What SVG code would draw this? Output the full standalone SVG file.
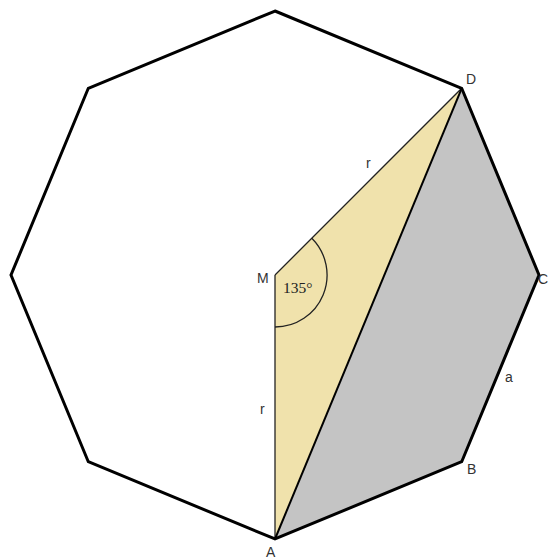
<svg xmlns="http://www.w3.org/2000/svg" width="548" height="559" viewBox="0 0 548 559">
<style>
.lbl{font-family:"Liberation Sans",Arial,sans-serif;font-size:14px;fill:#333}
.ang{font-family:"Liberation Serif","Times New Roman",serif;font-size:15.5px;fill:#222}
.thin{stroke:#222;stroke-width:1.3;fill:none}
</style>
<rect width="548" height="559" fill="#fff"/>
<g id="fills">
<polygon points="275,275 461.7,88.3 275,539" fill="#F0E2AC"/>
<polygon points="275,539 461.7,461.7 539,275 461.7,88.3" fill="#C4C4C4"/>
</g>
<g id="connectors">
<line class="thin" x1="275" y1="275" x2="461.7" y2="88.3"/>
<line class="thin" x1="275" y1="275" x2="275" y2="539"/>
<line x1="275" y1="539" x2="461.7" y2="88.3" stroke="#000" stroke-width="2"/>
<path class="thin" d="M275,327 A52,52 0 0 0 311.8,238.2"/>
</g>
<g id="octagon">
<polygon points="275,11 461.7,88.3 539,275 461.7,461.7 275,539 88.3,461.7 11,275 88.3,88.3" fill="none" stroke="#000" stroke-width="3" stroke-linejoin="miter"/>
</g>
<g id="node-M"><text class="lbl" x="257" y="283">M</text></g>
<g id="node-D"><text class="lbl" x="466" y="84">D</text></g>
<g id="node-C"><text class="lbl" x="538" y="284" font-size="13">C</text></g>
<g id="node-B"><text class="lbl" x="467" y="474">B</text></g>
<g id="node-A"><text class="lbl" x="266" y="557">A</text></g>
<g id="labels">
<text class="lbl" x="366" y="168">r</text>
<text class="lbl" x="260" y="414">r</text>
<text class="lbl" x="505" y="382">a</text>
<text class="ang" x="283" y="293">135°</text>
</g>
</svg>
